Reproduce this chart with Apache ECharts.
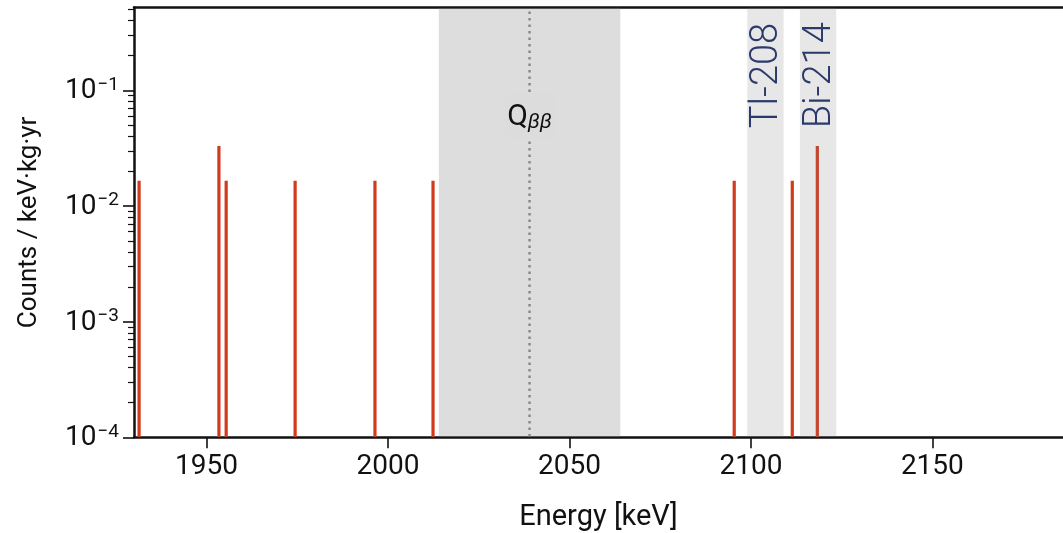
<!DOCTYPE html>
<html>
<head>
<meta charset="utf-8">
<script src="https://cdn.jsdelivr.net/npm/echarts@6/dist/echarts.min.js"></script>
<style>html,body{margin:0;padding:0;background:#fff}#c{width:1063px;height:533px}</style>
</head>
<body>
<div id="c"></div>
<script>
// ---- data ----
const energies = [1931.4, 1953.4, 1955.4, 1974.4, 1996.4, 2012.4, 2095.4, 2111.4, 2118.3];
const counts   = [0.0165, 0.033, 0.0165, 0.0165, 0.0165, 0.0165, 0.0165, 0.0165, 0.033];
const bandStart = [2014, 2099, 2113.5];
const bandEnd   = [2064, 2109, 2123.5];
const qbb = 2039;
const lineLabels = ['Tl-208', 'Bi-214'];
const lineLabelX = [2104, 2118.5];
const lineLabelY = [0.047, 0.047];
const xTicks = [1950, 2000, 2050, 2100, 2150];
const yTicks = [1e-4, 1e-3, 1e-2, 1e-1];
const xMin = 1930, xMax = 2186;
const yMin = 1e-4, yMax = 0.52;

// minor log ticks
const yMinor = [];
for (let d = -4; d <= -1; d++) for (let k = 2; k <= 9; k++) { const v = k * Math.pow(10, d); if (v < yMax) yMinor.push(v); }

const bandFill = ['rgba(128,128,128,0.27)', 'rgba(128,128,128,0.19)', 'rgba(128,128,128,0.19)'];
const FONT = 'Roboto';

const chart = echarts.init(document.getElementById('c'), null, {renderer: 'canvas'});
const option = {
  backgroundColor: '#fff',
  animation: false,
  grid: {left: 134, top: 7.5, right: 0, bottom: 95.7, containLabel: false, outerBoundsMode: 'none'},
  xAxis: [{
    type: 'value', min: xMin, max: xMax, position: 'bottom',
    name: 'Energy [keV]', nameLocation: 'middle', nameGap: 66,
    nameTextStyle: {fontFamily: FONT, fontSize: 29, color: '#111'},
    axisLine: {lineStyle: {color: '#111', width: 2.5}},
    axisTick: {length: 11, lineStyle: {color: '#111', width: 1.6}, customValues: xTicks},
    axisLabel: {fontFamily: FONT, fontSize: 28, color: '#111', margin: 16, customValues: xTicks,
      formatter: v => String(v)},
    splitLine: {show: false}
  }, {
    type: 'value', min: xMin, max: xMax, position: 'top',
    axisLine: {show: true, lineStyle: {color: '#111', width: 2.5}},
    axisTick: {show: false}, axisLabel: {show: false}, splitLine: {show: false}
  }],
  yAxis: [{
    type: 'log', min: yMin, max: yMax, logBase: 10, position: 'left',
    name: 'Counts / keV\u00b7kg\u00b7yr', nameLocation: 'middle', nameGap: 92,
    nameTextStyle: {fontFamily: FONT, fontSize: 26, color: '#111'},
    axisLine: {show: true, lineStyle: {color: '#111', width: 2.5}},
    axisTick: {length: 11, lineStyle: {color: '#111', width: 1.6}, customValues: yTicks},
    axisLabel: {
      margin: 15, customValues: yTicks,
      formatter: v => '{b|10}{e|\u2212' + Math.round(-Math.log10(v)) + '}',
      rich: {
        b: {fontFamily: FONT, fontSize: 28, color: '#111', lineHeight: 30, verticalAlign: 'bottom'},
        e: {fontFamily: FONT, fontSize: 19, color: '#111', verticalAlign: 'top', lineHeight: 19, padding: [0, 0, 0, 1]}
      }
    },
    splitLine: {show: false}
  }, {
    type: 'log', min: yMin, max: yMax, logBase: 10, position: 'left',
    axisLine: {show: false},
    axisTick: {length: 6, lineStyle: {color: '#111', width: 1.2}, customValues: yMinor},
    axisLabel: {show: false}, splitLine: {show: false}
  }],
  series: [
    {
      type: 'custom', name: 'bars', z: 2, clip: true,
      data: energies.map((e, i) => [e, counts[i]]),
      renderItem: (params, api) => {
        const top = api.coord([api.value(0), api.value(1)]);
        const bot = api.coord([api.value(0), yMin]);
        return {type: 'rect', shape: {x: top[0] - 1.6, y: top[1], width: 3.2, height: bot[1] - top[1]},
          style: {fill: '#d23a1c'}};
      }
    },
    {
      type: 'custom', name: 'bands', z: 3, clip: true,
      data: bandStart.map((s, i) => [s, bandEnd[i]]),
      renderItem: (params, api) => {
        const a = api.coord([api.value(0), yMax]);
        const b = api.coord([api.value(1), yMin]);
        return {type: 'rect', shape: {x: a[0], y: a[1], width: b[0] - a[0], height: b[1] - a[1]},
          style: {fill: bandFill[params.dataIndex]}};
      }
    },
    {
      type: 'custom', name: 'qbb', z: 4, clip: true,
      data: [[qbb, 0.059]],
      renderItem: (params, api) => {
        const a = api.coord([api.value(0), yMax]);
        const b = api.coord([api.value(0), yMin]);
        const t = api.coord([api.value(0), api.value(1)]);
        return {type: 'group', children: [
          {type: 'line', shape: {x1: a[0], y1: a[1] + 4, x2: b[0], y2: b[1]},
            style: {stroke: '#8a8a8a', lineWidth: 2.5, lineDash: [2.5, 4]}},
          {type: 'text', x: t[0], y: t[1], z2: 10,
            style: {text: '{q|Q}{s|\u03b2\u03b2}', align: 'center', verticalAlign: 'middle',
              backgroundColor: '#dcdcdc', padding: [6, 2, 6, 2],
              rich: {
                q: {fontFamily: FONT, fontSize: 30, fill: '#111', lineHeight: 32, verticalAlign: 'bottom'},
                s: {fontFamily: FONT, fontSize: 21, fontStyle: 'italic', fill: '#111', verticalAlign: 'bottom', lineHeight: 14}
              }}}
        ]};
      }
    },
    {
      type: 'custom', name: 'lineLabels', z: 5, clip: false,
      data: lineLabelX.map((x, i) => [x, lineLabelY[i]]),
      renderItem: (params, api) => {
        const p = api.coord([api.value(0), api.value(1)]);
        return {type: 'text', x: p[0] + 2, y: p[1], rotation: Math.PI / 2,
          style: {text: lineLabels[params.dataIndex], fontFamily: FONT, fontWeight: 300, fontSize: 38,
            fill: '#2b3a6b', align: 'left', verticalAlign: 'middle'}};
      }
    }
  ]
};
chart.setOption(option);
</script>
</body>
</html>
